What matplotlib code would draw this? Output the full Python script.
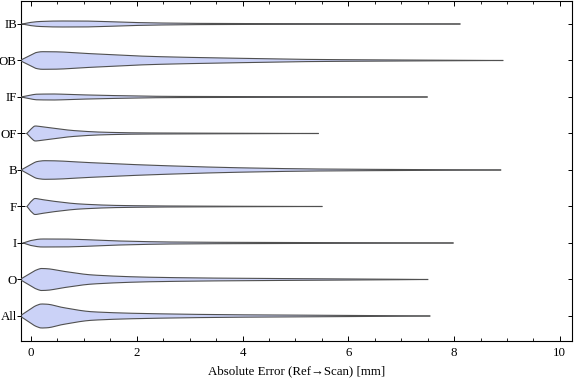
import matplotlib
matplotlib.use('Agg')
import matplotlib.pyplot as plt
import matplotlib.lines as mlines
import numpy as np
from matplotlib.ticker import MultipleLocator

plt.rcParams['font.family'] = ['Liberation Serif', 'DejaVu Serif']

# categories from bottom to top
labels = ['All', 'O', 'I', 'F', 'B', 'OF', 'IF', 'OB', 'IB']

# density profiles: error [mm] -> half width (pixels of the original)
prof_x = {
    'IB': [-0.17, -0.02, 0.17, 0.55, 0.93, 1.30, 1.87, 2.44, 3.19, 4.33, 6.03, 8.11],
    'OB': [-0.21, -0.02, 0.10, 0.21, 0.45, 1.06, 2.31, 3.95, 5.41, 6.98, 8.92],
    'IF': [-0.19, -0.02, 0.11, 0.42, 0.80, 1.49, 2.63, 4.50, 7.49],
    'OF': [-0.08, 0.00, 0.08, 0.20, 0.42, 0.79, 1.36, 2.06, 3.20, 5.43],
    'B':  [-0.19, -0.02, 0.12, 0.26, 0.42, 1.06, 2.31, 3.95, 5.41, 6.98, 8.88],
    'F':  [-0.076, 0.00, 0.076, 0.20, 0.42, 0.93, 1.68, 2.60, 5.50],
    'I':  [-0.15, 0.00, 0.21, 0.55, 1.00, 1.68, 2.63, 4.00, 6.00, 7.98],
    'O':  [-0.21, -0.05, 0.10, 0.20, 0.30, 0.60, 1.17, 2.31, 3.95, 6.00, 7.50],
    'All': [-0.21, -0.05, 0.10, 0.20, 0.30, 0.60, 1.17, 2.31, 3.95, 6.00, 7.54],
}
prof_w = {
    'IB': [0, 1.5, 2.5, 3.0, 3.0, 2.6, 1.6, 1.0, 0.6, 0.4, 0.3, 0],
    'OB': [0, 5.0, 8.0, 8.8, 8.7, 7.0, 4.0, 2.2, 1.0, 0.5, 0],
    'IF': [0, 1.8, 2.8, 3.0, 2.4, 1.5, 0.6, 0.35, 0],
    'OF': [0, 4.5, 7.5, 6.8, 5.3, 3.0, 1.3, 0.6, 0.35, 0],
    'B':  [0, 5.0, 8.5, 9.3, 9.2, 7.5, 4.7, 2.2, 1.0, 0.5, 0],
    'F':  [0, 5.0, 8.0, 7.0, 5.3, 2.5, 1.0, 0.5, 0],
    'I':  [0, 2.5, 4.0, 4.0, 3.4, 2.0, 1.0, 0.6, 0.35, 0],
    'O':  [0, 5.0, 9.5, 11.0, 10.8, 8.3, 4.5, 2.2, 1.2, 0.6, 0],
    'All': [0, 5.5, 10.5, 12.0, 11.8, 8.5, 4.2, 2.3, 1.2, 0.6, 0],
}

px_per_unit = 36.5   # category spacing in the original


def pchip(x, y, xs):                                   # monotone cubic, keeps the outline smooth
    x = np.asarray(x, float)
    y = np.asarray(y, float)
    h = np.diff(x)
    d = np.diff(y) / h
    m = np.zeros_like(y)
    for k in range(1, len(y) - 1):
        if d[k - 1] * d[k] > 0:
            w1 = 2 * h[k] + h[k - 1]
            w2 = h[k] + 2 * h[k - 1]
            m[k] = (w1 + w2) / (w1 / d[k - 1] + w2 / d[k])
    m[0] = d[0]
    m[-1] = d[-1]
    idx = np.clip(np.searchsorted(x, xs) - 1, 0, len(h) - 1)
    t = (xs - x[idx]) / h[idx]
    h00 = 2 * t**3 - 3 * t**2 + 1
    h10 = t**3 - 2 * t**2 + t
    h01 = -2 * t**3 + 3 * t**2
    h11 = t**3 - t**2
    return h00 * y[idx] + h10 * h[idx] * m[idx] + h01 * y[idx + 1] + h11 * h[idx] * m[idx + 1]


fig = plt.figure(figsize=(5.76, 3.81), dpi=100)
ax = fig.add_axes([21 / 576, 1 - 341 / 381, 551 / 576, 340 / 381])

fill_col = (0.798, 0.825, 0.968)
edge_col = '#505050'

for i, lab in enumerate(labels):
    pos = i + 1
    xs = np.linspace(prof_x[lab][0], prof_x[lab][-1], 400)
    hw = np.maximum(pchip(prof_x[lab], prof_w[lab], xs), 0) / px_per_unit
    ax.fill_between(xs, pos - hw, pos + hw, facecolor=fill_col, edgecolor='none', zorder=2)
    ax.plot(xs, pos + hw, color=edge_col, lw=0.8, zorder=3)
    ax.plot(xs, pos - hw, color=edge_col, lw=0.8, zorder=3)

ax.set_xlim(-0.19, 10.23)
ax.set_ylim(0.315, 9.63)
ax.set_yticks(range(1, len(labels) + 1))
ax.set_yticklabels(labels)
ax.xaxis.set_major_locator(MultipleLocator(2))
ax.xaxis.set_minor_locator(MultipleLocator(0.5))

ax.tick_params(axis='x', which='major', direction='in', top=True, length=3.5, width=0.7,
               labelsize=9.3, pad=4)
ax.tick_params(axis='x', which='minor', direction='in', top=True, length=2, width=0.6)
ax.tick_params(axis='y', which='major', direction='inout', right=True, length=6, width=0.7,
               labelsize=9.3, pad=0)
ax.tick_params(axis='y', which='minor', left=False, right=False)
for t in ax.yaxis.get_major_ticks():                  # right-hand ticks point inward only
    t.tick2line.set_marker(mlines.TICKLEFT)
    t.tick2line.set_markersize(3)
for s in ax.spines.values():
    s.set_linewidth(0.8)

ax.set_xlabel('Absolute Error (Ref\u2192Scan) [mm]', fontsize=9.3, labelpad=5)

fig.savefig('out.png', dpi=100)
